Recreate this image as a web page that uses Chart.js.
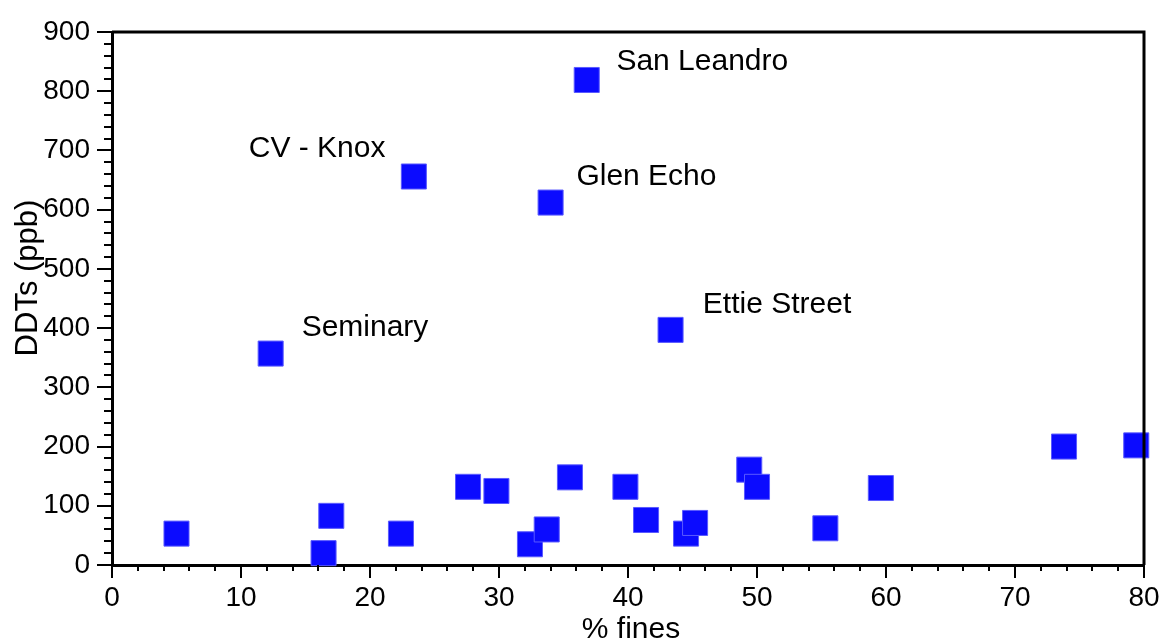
<!DOCTYPE html>
<html>
<head>
<meta charset="utf-8">
<script src="https://cdn.jsdelivr.net/npm/chart.js@4.4.1/dist/chart.umd.min.js"></script>
<style>
  html, body { margin: 0; padding: 0; background: #fff; }
  #wrap { width: 1160px; height: 641px; }
</style>
</head>
<body>
<div id="wrap"><canvas id="c"></canvas></div>
<script>
// % fines (x) vs DDTs in ppb (y), one entry per site
const FINES = [5.0, 12.3, 16.4, 17.0, 22.4, 23.4, 27.6, 29.8, 32.4, 33.7, 34.0, 35.5,
               36.8, 39.8, 41.4, 43.3, 44.5, 45.2, 49.4, 50.0, 55.3, 59.6, 73.8, 79.4];
const DDTS = [53, 357, 20, 83, 53, 656, 132, 125, 35, 60, 612, 148,
              819, 132, 76, 397, 53, 71, 161, 132, 62, 130, 200, 202];

// site callouts, anchored in data units (left edge of text, baseline)
const SITE_NAMES = ['San Leandro', 'CV - Knox', 'Glen Echo', 'Seminary', 'Ettie Street'];
const SITE_X = [39.1, 10.6, 36.0, 14.7, 45.8];
const SITE_Y = [835, 689, 641, 386, 426];

const X_MAX = 80, X_STEP = 10, X_MINOR = 2;
const Y_MAX = 900, Y_STEP = 100, Y_MINOR = 20;

const FONT = '"Liberation Sans", Arial, Helvetica, sans-serif';

// the frame is placed by layout.padding only, so drop the tick-label overflow padding
const noPad = () => ({ left: 0, top: 0, right: 0, bottom: 0 });

// minor ticks, top/right frame, titles and site labels
const decorPlugin = {
  id: 'decor',
  afterDraw(chart) {
    const c = chart.ctx, a = chart.chartArea;
    const xs = chart.scales.x, ys = chart.scales.y;
    c.save();
    c.strokeStyle = '#000';
    c.lineWidth = 2;
    c.beginPath();
    for (let v = 0; v <= X_MAX; v += X_MINOR) {
      if (v % X_STEP === 0) continue;
      const px = Math.round(xs.getPixelForValue(v));
      c.moveTo(px, a.bottom); c.lineTo(px, a.bottom + 6);
    }
    for (let v = 0; v <= Y_MAX; v += Y_MINOR) {
      if (v % Y_STEP === 0) continue;
      const py = Math.round(ys.getPixelForValue(v));
      c.moveTo(a.left, py); c.lineTo(a.left - 8, py);
    }
    c.stroke();
    c.lineWidth = 3;
    c.beginPath();
    c.moveTo(a.left, a.top); c.lineTo(a.right, a.top); c.lineTo(a.right, a.bottom);
    c.stroke();

    c.fillStyle = '#000';
    c.font = '30px ' + FONT;
    c.textBaseline = 'alphabetic';
    c.textAlign = 'left';
    SITE_NAMES.forEach((name, i) => {
      c.fillText(name, xs.getPixelForValue(SITE_X[i]), ys.getPixelForValue(SITE_Y[i]));
    });

    c.textAlign = 'center';
    c.fillText('% fines', 631, 638);
    c.font = '31px ' + FONT;
    c.translate(37, 278);
    c.rotate(-Math.PI / 2);
    c.fillText('DDTs (ppb)', 0, 0);
    c.restore();
  },
};

new Chart(document.getElementById('c'), {
  type: 'scatter',
  data: {
    datasets: [{
      data: FINES.map((x, i) => ({ x, y: DDTS[i] })),
      pointStyle: 'rect',
      pointRadius: 17.7,
      pointHoverRadius: 17.7,
      backgroundColor: '#0b0bff',
      borderColor: '#5a5aff',
      borderWidth: 1,
      clip: false,
    }],
  },
  plugins: [decorPlugin],
  options: {
    responsive: true, maintainAspectRatio: false, animation: false,
    layout: { autoPadding: false, padding: { top: 32, right: 16, left: 0, bottom: 0 } },
    plugins: { legend: { display: false }, tooltip: { enabled: false } },
    scales: {
      x: {
        type: 'linear', min: 0, max: X_MAX,
        afterFit: (s) => { s.height = 76; s.getPadding = noPad; },
        ticks: { stepSize: X_STEP, color: '#000', padding: 3, font: { size: 28, family: FONT } },
        grid: { drawOnChartArea: false, drawTicks: true, tickLength: 13, color: '#000', lineWidth: 2 },
        border: { display: true, color: '#000', width: 3 },
      },
      y: {
        type: 'linear', min: 0, max: Y_MAX,
        afterFit: (s) => { s.width = 112; s.getPadding = noPad; },
        ticks: { stepSize: Y_STEP, color: '#000', padding: 7, font: { size: 28, family: FONT } },
        grid: { drawOnChartArea: false, drawTicks: true, tickLength: 15, color: '#000', lineWidth: 2 },
        border: { display: true, color: '#000', width: 3 },
      },
    },
  },
});
</script>
</body>
</html>
